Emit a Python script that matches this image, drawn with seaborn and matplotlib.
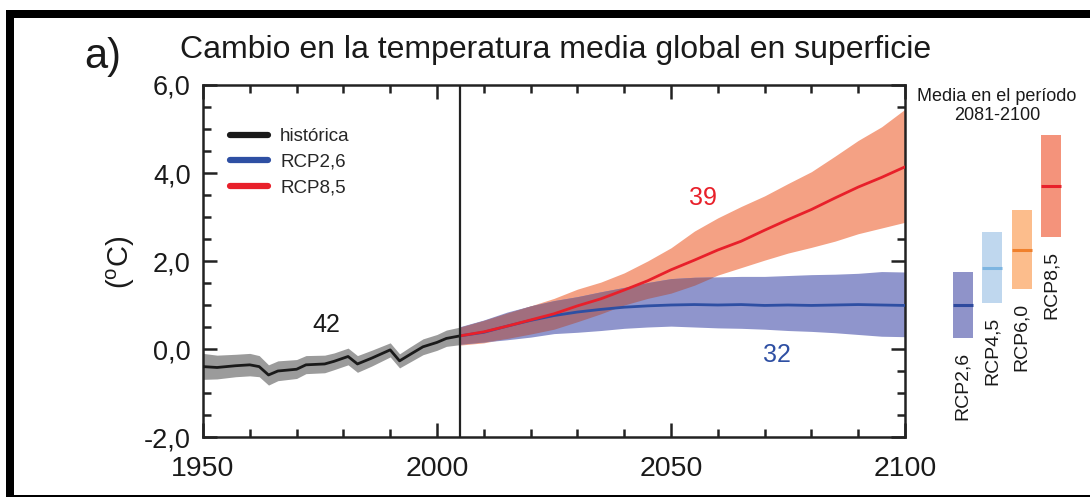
import numpy as np
import pandas as pd
import matplotlib
matplotlib.use("Agg")
import matplotlib.pyplot as plt
import seaborn as sns
from matplotlib.lines import Line2D
from matplotlib.patches import Rectangle
from matplotlib.ticker import MultipleLocator, FuncFormatter

# ---------------------------------------------------------------------------
# Global mean surface temperature change relative to 1986-2005 (°C)
# ---------------------------------------------------------------------------
hist_years = [1950, 1953, 1957, 1960, 1962, 1964, 1966, 1970, 1972, 1976, 1978,
              1981, 1983, 1986, 1990, 1992, 1994, 1997, 2000, 2002, 2005]
hist_mean = [-0.40, -0.42, -0.38, -0.36, -0.40, -0.59, -0.50, -0.46, -0.36, -0.34, -0.28,
             -0.17, -0.34, -0.21, -0.02, -0.27, -0.14, 0.05, 0.15, 0.24, 0.30]
hist_hi = [-0.10, -0.14, -0.12, -0.10, -0.15, -0.36, -0.27, -0.24, -0.15, -0.14, -0.09,
           0.02, -0.15, -0.03, 0.14, -0.11, 0.03, 0.23, 0.33, 0.43, 0.50]
hist_lo = [-0.69, -0.68, -0.63, -0.61, -0.63, -0.82, -0.72, -0.67, -0.56, -0.54, -0.47,
           -0.36, -0.53, -0.39, -0.18, -0.43, -0.31, -0.13, -0.03, 0.06, 0.10]

proj_years = [2005, 2010, 2015, 2020, 2025, 2030, 2035, 2040, 2045, 2050,
              2055, 2060, 2065, 2070, 2075, 2080, 2085, 2090, 2095, 2100]

rcp26_mean = [0.30, 0.38, 0.52, 0.65, 0.76, 0.84, 0.90, 0.95, 0.98, 1.00,
              1.01, 1.00, 1.01, 0.99, 1.00, 0.99, 1.00, 1.01, 1.00, 0.99]
rcp26_hi = [0.51, 0.66, 0.84, 0.98, 1.10, 1.19, 1.30, 1.40, 1.51, 1.60,
            1.63, 1.64, 1.65, 1.65, 1.67, 1.69, 1.70, 1.72, 1.76, 1.75]
rcp26_lo = [0.11, 0.16, 0.21, 0.27, 0.35, 0.38, 0.42, 0.47, 0.50, 0.52,
            0.50, 0.48, 0.47, 0.45, 0.42, 0.40, 0.37, 0.33, 0.29, 0.28]

rcp85_mean = [0.30, 0.39, 0.52, 0.66, 0.80, 0.98, 1.14, 1.34, 1.55, 1.80,
              2.02, 2.25, 2.45, 2.70, 2.94, 3.17, 3.43, 3.68, 3.90, 4.14]
rcp85_hi = [0.50, 0.65, 0.82, 0.98, 1.15, 1.36, 1.52, 1.73, 2.00, 2.30,
            2.68, 2.98, 3.24, 3.48, 3.76, 4.03, 4.38, 4.74, 5.05, 5.45]
rcp85_lo = [0.09, 0.14, 0.24, 0.34, 0.45, 0.62, 0.80, 1.00, 1.15, 1.27,
            1.45, 1.68, 1.85, 2.02, 2.18, 2.31, 2.45, 2.62, 2.75, 2.88]

# number of models in each ensemble
n_hist, n_rcp26, n_rcp85 = 42, 32, 39

# 2081-2100 mean and likely range per scenario
scen_labels = ["RCP2,6", "RCP4,5", "RCP6,0", "RCP8,5"]
scen_mean = [1.00, 1.84, 2.24, 3.71]
scen_lo = [0.26, 1.04, 1.36, 2.55]
scen_hi = [1.76, 2.65, 3.16, 4.87]

# colours
C_HIST, C_HIST_BAND = "#1a1a1a", "#9b9b9b"
C_26, C_26_BAND = "#2e4fa3", "#8f95cc"
C_85, C_85_BAND = "#e8202a", "#f4a184"
C_OVERLAP = "#a16e7e"
bar_fill = ["#8f93c9", "#bfd7ee", "#fcbd8c", "#f4937b"]
bar_line = ["#2e4a9e", "#7db5e1", "#f0802c", "#e8202a"]

# ---------------------------------------------------------------------------
sns.set_theme(style="ticks")
plt.rcParams["font.family"] = ["Liberation Sans", "DejaVu Sans"]
plt.rcParams["mathtext.fontset"] = "custom"
plt.rcParams["mathtext.rm"] = "Liberation Sans"
plt.rcParams["axes.unicode_minus"] = False

W, H = 1090, 498
fig = plt.figure(figsize=(W / 100, H / 100), dpi=100)
fig.patch.set_facecolor("white")


def px_box(x0, y0, x1, y1):
    return [x0 / W, 1 - y1 / H, (x1 - x0) / W, (y1 - y0) / H]


ax = fig.add_axes(px_box(203, 85, 905, 437))

hist = pd.DataFrame({"year": hist_years, "mean": hist_mean, "lo": hist_lo, "hi": hist_hi})
r26 = pd.DataFrame({"year": proj_years, "mean": rcp26_mean, "lo": rcp26_lo, "hi": rcp26_hi})
r85 = pd.DataFrame({"year": proj_years, "mean": rcp85_mean, "lo": rcp85_lo, "hi": rcp85_hi})

# spread bands
ax.fill_between(hist["year"], hist["lo"], hist["hi"], color=C_HIST_BAND, lw=0, zorder=1)
ax.fill_between(r85["year"], r85["lo"], r85["hi"], color=C_85_BAND, lw=0, zorder=1)
ax.fill_between(r26["year"], r26["lo"], r26["hi"], color=C_26_BAND, lw=0, zorder=1.1)
ov_lo = np.maximum(r26["lo"], r85["lo"])
ov_hi = np.minimum(r26["hi"], r85["hi"])
ax.fill_between(r26["year"], ov_lo, ov_hi, where=ov_hi > ov_lo, interpolate=True,
                color=C_OVERLAP, lw=0, zorder=1.2)

# ensemble means
sns.lineplot(data=hist, x="year", y="mean", color=C_HIST, lw=2.0, ax=ax, zorder=3)
sns.lineplot(data=r26, x="year", y="mean", color=C_26, lw=2.0, ax=ax, zorder=3)
sns.lineplot(data=r85, x="year", y="mean", color=C_85, lw=2.0, ax=ax, zorder=3.1)

ax.axvline(2005, color="#222222", lw=1.6, zorder=4)

ax.set_xlim(1950, 2100)
ax.set_ylim(-2, 6)
ax.set_xlabel("")
ax.set_ylabel("")
ax.xaxis.set_major_locator(MultipleLocator(50))
ax.xaxis.set_minor_locator(MultipleLocator(10))
ax.yaxis.set_major_locator(MultipleLocator(2))
ax.yaxis.set_minor_locator(MultipleLocator(0.5))
ax.yaxis.set_major_formatter(FuncFormatter(lambda v, p: f"{v:.1f}".replace(".", ",")))
ax.tick_params(which="both", direction="in", top=True, right=True, width=1.8,
               colors="#222222", labelcolor="#1a1a1a")
ax.tick_params(which="major", length=10)
ax.tick_params(which="minor", length=6)
ax.tick_params(axis="x", which="major", labelsize=20.5, pad=14)
ax.tick_params(axis="y", which="major", labelsize=19.5, pad=9)
for s in ax.spines.values():
    s.set_linewidth(1.8)
    s.set_color("#222222")

# ensemble sizes
ax.text(1976.4, 0.55, str(n_hist), color=C_HIST, fontsize=18, ha="center", va="center")
ax.text(2056.9, 3.43, str(n_rcp85), color=C_85, fontsize=18, ha="center", va="center")
ax.text(2072.6, -0.14, str(n_rcp26), color=C_26, fontsize=18, ha="center", va="center")

handles = [Line2D([], [], color=C_HIST, lw=4.5, solid_capstyle="round"),
           Line2D([], [], color=C_26, lw=4.5, solid_capstyle="round"),
           Line2D([], [], color=C_85, lw=4.5, solid_capstyle="round")]
ax.legend(handles, ["histórica", "RCP2,6", "RCP8,5"], loc="upper left",
          bbox_to_anchor=(0.015, 0.925), frameon=False, fontsize=13.5,
          handlelength=2.0, handletextpad=0.65, labelspacing=0.45)

fig.text(121 / W, 1 - 262 / H, r"($^{\mathrm{o}}$C)", rotation=90, fontsize=21,
         ha="center", va="center", color="#1a1a1a")
fig.text(180 / W, 1 - 50 / H, "Cambio en la temperatura media global en superficie",
         fontsize=23, ha="left", va="center", color="#1a1a1a")
fig.text(84 / W, 1 - 57 / H, "a)", fontsize=30, ha="left", va="center", color="#1a1a1a")

# 2081-2100 summary bars
ax2 = fig.add_axes(px_box(948, 85, 1066, 437))
ax2.set_xlim(-0.5, 3.5)
ax2.set_ylim(-2, 6)
ax2.axis("off")
xs = np.arange(len(scen_labels))
heights = np.array(scen_hi) - np.array(scen_lo)
ax2.bar(xs, heights, bottom=scen_lo, width=0.68, color=bar_fill, lw=0)
for i in range(len(xs)):
    ax2.hlines(scen_mean[i], xs[i] - 0.34, xs[i] + 0.34, color=bar_line[i], lw=2.2)
    ax2.annotate(scen_labels[i], xy=(xs[i], scen_lo[i]), xytext=(0, -10),
                 textcoords="offset points", rotation=90, ha="center", va="top",
                 fontsize=14, color="#1a1a1a")
fig.text(997 / W, 1 - 106 / H, "Media en el período\n2081-2100", fontsize=13,
         ha="center", va="center", linespacing=1.2, color="#1a1a1a")

# outer frame
fig.add_artist(Rectangle((6 / W, 1 - 497 / H), 8 / W, 487 / H, transform=fig.transFigure,
                         color="black", lw=0))
fig.add_artist(Rectangle((6 / W, 1 - 18 / H), (W - 6) / W, 8 / H, transform=fig.transFigure,
                         color="black", lw=0))
fig.add_artist(Rectangle((6 / W, 1 - 497 / H), (W - 6) / W, 1.6 / H, transform=fig.transFigure,
                         color="black", lw=0))

fig.savefig("out.png", dpi=100)
